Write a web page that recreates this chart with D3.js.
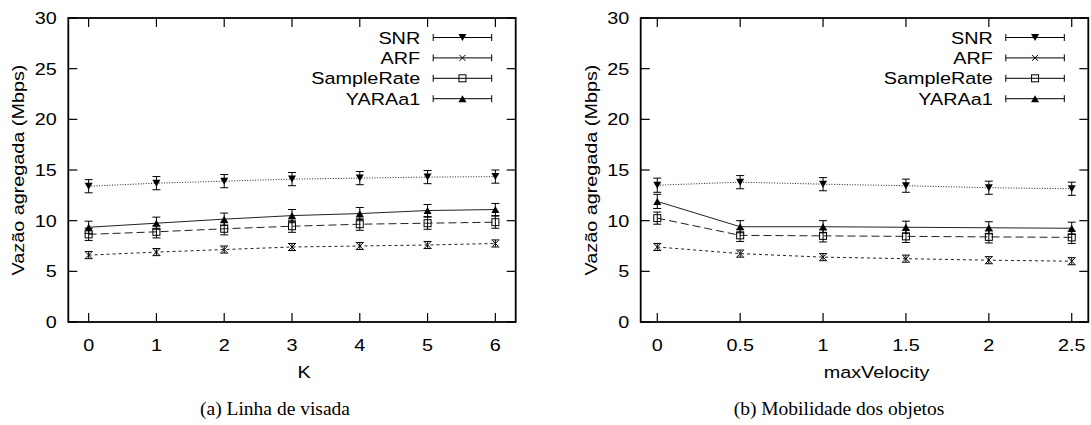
<!DOCTYPE html>
<html lang="pt">
<head>
<meta charset="utf-8">
<title>Vazão agregada</title>
<script src="https://d3js.org/d3.v7.min.js"></script>
<style>
  body { margin: 0; background: #fff; }
  svg { display: block; }
  .lbl { font-family: "Liberation Sans", Arial, Helvetica, sans-serif; font-size: 16.5px; fill: #000; }
  .cap { font-family: "Liberation Serif", "Times New Roman", serif; font-size: 19.5px; fill: #000; }
</style>
</head>
<body>
<script>
// ---- data ----
const kVals = [0, 1, 2, 3, 4, 5, 6];
const snrK  = [13.4, 13.7, 13.9, 14.1, 14.2, 14.3, 14.35];
const arfK  = [6.6, 6.9, 7.15, 7.4, 7.5, 7.6, 7.75];
const srK   = [8.65, 8.9, 9.2, 9.45, 9.65, 9.75, 9.85];
const yaraK = [9.35, 9.75, 10.15, 10.5, 10.7, 11.0, 11.1];
const snrKErr  = [0.65, 0.65, 0.65, 0.65, 0.65, 0.65, 0.65];
const arfKErr  = [0.35, 0.35, 0.35, 0.35, 0.35, 0.35, 0.35];
const srKErr   = [0.6, 0.6, 0.6, 0.6, 0.6, 0.6, 0.6];
const yaraKErr = [0.6, 0.6, 0.6, 0.6, 0.6, 0.6, 0.6];

const velVals = [0, 0.5, 1, 1.5, 2, 2.5];
const snrV  = [13.5, 13.8, 13.6, 13.45, 13.25, 13.15];
const arfV  = [7.4, 6.75, 6.4, 6.25, 6.1, 6.0];
const srV   = [10.25, 8.55, 8.5, 8.45, 8.4, 8.35];
const yaraV = [11.9, 9.4, 9.4, 9.35, 9.3, 9.25];
const snrVErr  = [0.7, 0.65, 0.65, 0.65, 0.65, 0.65];
const arfVErr  = [0.35, 0.35, 0.35, 0.35, 0.35, 0.35];
const srVErr   = [0.6, 0.6, 0.6, 0.6, 0.6, 0.6];
const yaraVErr = [0.7, 0.6, 0.6, 0.6, 0.6, 0.6];

const seriesNames = ["SNR", "ARF", "SampleRate", "YARAa1"];
const yTicks = [0, 5, 10, 15, 20, 25, 30];
const kTicks = [0, 1, 2, 3, 4, 5, 6];
const velTicks = [0, 0.5, 1, 1.5, 2, 2.5];

// ---- style per series ----
const styles = {
  SNR:        { dash: "1,1.6", marker: "tdown" },
  ARF:        { dash: "3,3",   marker: "cross" },
  SampleRate: { dash: "8,4",   marker: "square" },
  YARAa1:     { dash: null,    marker: "tup" }
};

const W = 1091, H = 425;
const SX = 1.2; // gnuplot text is wider than Liberation Sans

const svg = d3.select("body").append("svg")
  .attr("width", W).attr("height", H);
svg.append("rect").attr("width", W).attr("height", H).attr("fill", "#fff");

function text(g, x, y, str, anchor, cls, rot) {
  return g.append("text")
    .attr("class", cls || "lbl")
    .attr("text-anchor", anchor || "middle")
    .attr("transform", "translate(" + x + "," + y + ")" + (rot ? " rotate(" + rot + ")" : "") + (cls === "cap" ? "" : " scale(" + SX + ",1)"))
    .text(str);
}

function marker(g, type, x, y) {
  if (type === "tdown") {
    g.append("path").attr("d", "M" + (x - 4) + "," + (y - 3.5) + "L" + (x + 4) + "," + (y - 3.5) + "L" + x + "," + (y + 3.5) + "Z")
      .attr("fill", "#000");
  } else if (type === "tup") {
    g.append("path").attr("d", "M" + (x - 4) + "," + (y + 3.5) + "L" + (x + 4) + "," + (y + 3.5) + "L" + x + "," + (y - 3.5) + "Z")
      .attr("fill", "#000");
  } else if (type === "square") {
    g.append("rect").attr("x", x - 3.5).attr("y", y - 3.5).attr("width", 7).attr("height", 7)
      .attr("fill", "none").attr("stroke", "#000").attr("stroke-width", 1);
  } else {
    g.append("path").attr("d", "M" + (x - 3) + "," + (y - 3) + "L" + (x + 3) + "," + (y + 3) + "M" + (x - 3) + "," + (y + 3) + "L" + (x + 3) + "," + (y - 3))
      .attr("stroke", "#000").attr("stroke-width", 1);
  }
}

function panel(cfg) {
  const g = svg.append("g");
  const x = d3.scaleLinear().domain(cfg.xDomain).range([cfg.x0, cfg.x1]);
  const y = d3.scaleLinear().domain([0, 30]).range([cfg.y1, cfg.y0]);

  // ticks (mirrored, inward)
  const tl = 9;
  cfg.xTicks.forEach(t => {
    g.append("line").attr("x1", x(t)).attr("x2", x(t)).attr("y1", cfg.y1).attr("y2", cfg.y1 - tl)
      .attr("stroke", "#000").attr("stroke-width", 1.2);
    g.append("line").attr("x1", x(t)).attr("x2", x(t)).attr("y1", cfg.y0).attr("y2", cfg.y0 + tl)
      .attr("stroke", "#000").attr("stroke-width", 1.2);
    text(g, x(t), 350.5, String(t), "middle");
  });
  yTicks.forEach(t => {
    g.append("line").attr("x1", cfg.x0).attr("x2", cfg.x0 + tl).attr("y1", y(t)).attr("y2", y(t))
      .attr("stroke", "#000").attr("stroke-width", 1.2);
    g.append("line").attr("x1", cfg.x1).attr("x2", cfg.x1 - tl).attr("y1", y(t)).attr("y2", y(t))
      .attr("stroke", "#000").attr("stroke-width", 1.2);
    text(g, cfg.x0 - 11.5, y(t) + 6, String(t), "end");
  });

  // series
  cfg.series.forEach(s => {
    const st = styles[s.name];
    const pts = cfg.xs.map((xv, i) => [x(xv), y(s.vals[i]), s.err[i]]);
    g.append("path")
      .attr("d", d3.line()(pts.map(p => [p[0], p[1]])))
      .attr("fill", "none").attr("stroke", "#222").attr("stroke-width", 1)
      .attr("stroke-dasharray", st.dash);
    cfg.xs.forEach((xv, i) => {
      const px = x(xv), lo = y(s.vals[i] - s.err[i]), hi = y(s.vals[i] + s.err[i]);
      g.append("path")
        .attr("d", "M" + px + "," + lo + "V" + hi + "M" + (px - 4) + "," + lo + "H" + (px + 4) + "M" + (px - 4) + "," + hi + "H" + (px + 4))
        .attr("stroke", "#000").attr("stroke-width", 1).attr("fill", "none");
      marker(g, st.marker, px, y(s.vals[i]));
    });
  });

  // legend
  seriesNames.forEach((n, i) => {
    const ly = 37.5 + i * 20.4;
    text(g, cfg.x1 - 95.5, ly + 6, n, "end");
    const a = cfg.x1 - 82.5, b = cfg.x1 - 24;
    g.append("path")
      .attr("d", "M" + a + "," + ly + "H" + b + "M" + a + "," + (ly - 3.5) + "V" + (ly + 3.5) + "M" + b + "," + (ly - 3.5) + "V" + (ly + 3.5))
      .attr("stroke", "#000").attr("stroke-width", 1).attr("fill", "none");
    marker(g, styles[n].marker, (a + b) / 2, ly);
  });

  // frame
  g.append("rect").attr("x", cfg.x0).attr("y", cfg.y0)
    .attr("width", cfg.x1 - cfg.x0).attr("height", cfg.y1 - cfg.y0)
    .attr("fill", "none").attr("stroke", "#000").attr("stroke-width", 1.8);

  // axis titles and caption
  text(g, cfg.ylabX, (cfg.y0 + cfg.y1) / 2, "Vazão agregada (Mbps)", "middle", "lbl", -90);
  text(g, (cfg.x0 + cfg.x1) / 2 + 12, 378, cfg.xlabel, "middle");
  text(g, cfg.capX, 415, cfg.caption, "middle", "cap");
}

panel({
  x0: 68.3, x1: 515.7, y0: 18, y1: 322,
  xDomain: [-0.3, 6.3], xTicks: kTicks, xs: kVals,
  ylabX: 23.5, xlabel: "K", caption: "(a)  Linha de visada", capX: 275,
  series: [
    { name: "SNR", vals: snrK, err: snrKErr },
    { name: "ARF", vals: arfK, err: arfKErr },
    { name: "SampleRate", vals: srK, err: srKErr },
    { name: "YARAa1", vals: yaraK, err: yaraKErr }
  ]
});

panel({
  x0: 640.7, x1: 1088.3, y0: 18, y1: 322,
  xDomain: [-0.1, 2.6], xTicks: velTicks, xs: velVals,
  ylabX: 596.7, xlabel: "maxVelocity", caption: "(b)  Mobilidade dos objetos", capX: 839,
  series: [
    { name: "SNR", vals: snrV, err: snrVErr },
    { name: "ARF", vals: arfV, err: arfVErr },
    { name: "SampleRate", vals: srV, err: srVErr },
    { name: "YARAa1", vals: yaraV, err: yaraVErr }
  ]
});
</script>
</body>
</html>
